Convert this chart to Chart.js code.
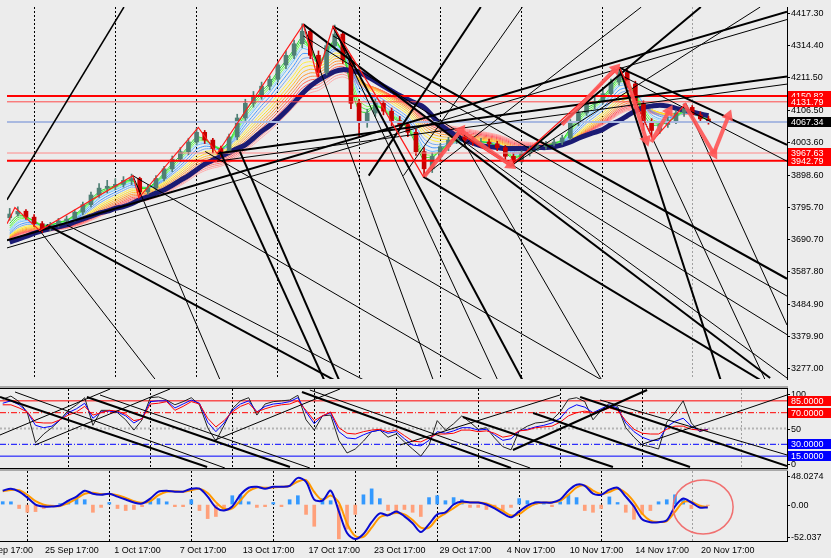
<!DOCTYPE html>
<html>
<head>
<meta charset="utf-8">
<title>Price chart</title>
<script src="https://cdn.jsdelivr.net/npm/chart.js"></script>
<style>
  html, body { margin: 0; padding: 0; background: #ececec; }
  #wrap { position: relative; width: 831px; height: 558px; overflow: hidden; background: #ececec; }
  canvas { position: absolute; left: 0; }
  .sep { position: absolute; left: 0; width: 788px; }
</style>
</head>
<body>
<div id="wrap">
  <canvas id="mainChart" width="831" height="386" style="top:0"></canvas>
  <div class="sep" style="top:386px;height:2px;background:#a8a8a8"></div>
  <div class="sep" style="top:388px;height:1px;background:#000"></div>
  <canvas id="oscChart" width="831" height="79" style="top:389px"></canvas>
  <div class="sep" style="top:468px;height:1px;background:#000"></div>
  <div class="sep" style="top:469px;height:2px;background:#a8a8a8"></div>
  <canvas id="macdChart" width="831" height="87" style="top:471px"></canvas>
  <div class="sep" style="top:541px;height:1px;background:#000"></div>
</div>
<script>
/* ── Price data: one candle per 3 bars (x = 1 + 3*i) ───────── */
const opens = [
  3760,3772,3781,3762,3741,3725,3737,3750,3756,3778,
  3802,3833,3855,3861,3867,3880,3886,3843,3855,3886,
  3917,3948,3972,4003,4034,4009,3982,3972,4019,4080,
  4127,4151,4182,4204,4250,4281,4318,4358,4281,4226,
  4312,4349,4266,4127,4065,4096,4127,4102,4071,4059,
  4034,3972,3917,3957,3988,4009,4019,4009,4003,4003,
  3997,3985,3957,3941,3966,3982,3988,3997,4003,4016,
  4065,4096,4127,4133,4158,4195,4226,4189,4127,4065,
  4040,4059,4071,4096,4114,4090,4077];
const highs = [
  3790,3795,3786,3770,3748,3745,3758,3766,3785,3810,
  3842,3870,3880,3885,3892,3900,3890,3866,3895,3925,
  3958,3985,4015,4048,4040,4015,3990,4028,4092,4140,
  4165,4195,4215,4262,4295,4330,4382,4366,4295,4322,
  4378,4358,4280,4140,4108,4140,4135,4112,4085,4068,
  4045,3985,3968,3998,4018,4035,4028,4020,4015,4012,
  4005,3992,3965,3975,3990,3995,4005,4012,4025,4075,
  4108,4138,4148,4170,4205,4242,4235,4198,4135,4078,
  4068,4082,4105,4125,4120,4100,4085];
const lows = [
  3752,3765,3755,3732,3712,3718,3730,3740,3748,3770,
  3795,3825,3840,3850,3858,3866,3832,3835,3848,3878,
  3908,3940,3962,3995,3998,3968,3955,3965,4010,4072,
  4115,4140,4170,4195,4238,4270,4305,4270,4212,4218,
  4300,4255,4110,4022,4050,4085,4090,4055,4045,4020,
  3960,3892,3905,3948,3975,3998,3995,3992,3990,3985,
  3975,3945,3925,3935,3958,3975,3980,3990,3995,4010,
  4055,4088,4110,4125,4150,4185,4178,4110,4040,4020,
  4030,4050,4062,4085,4080,4068,4060];
const closes = [
  3772,3781,3762,3741,3725,3737,3750,3756,3778,3802,
  3833,3855,3861,3867,3880,3886,3843,3855,3886,3917,
  3948,3972,4003,4034,4009,3982,3972,4019,4080,4127,
  4151,4182,4204,4250,4281,4318,4358,4281,4226,4312,
  4349,4266,4127,4065,4096,4127,4102,4071,4059,4034,
  3972,3917,3957,3988,4009,4019,4009,4003,4003,3997,
  3985,3957,3941,3966,3982,3988,3997,4003,4016,4065,
  4096,4127,4133,4158,4195,4226,4189,4127,4065,4040,
  4059,4071,4096,4114,4090,4077,4067];
/* thick navy slow average */
const slowMa = [
  3682,3691,3700,3710,3719,3725,3731,3737,3747,3756,
  3765,3775,3781,3790,3796,3805,3818,3827,3839,3849,
  3864,3880,3895,3914,3932,3945,3957,3969,3982,3994,
  4015,4037,4056,4077,4102,4130,4158,4182,4201,4216,
  4229,4235,4232,4226,4213,4198,4182,4167,4152,4139,
  4127,4114,4087,4059,4040,4022,4009,4000,3991,3988,
  3985,3982,3982,3982,3982,3985,3985,3988,3994,4003,
  4015,4025,4034,4043,4059,4071,4087,4102,4114,4118,
  4121,4118,4111,4105,4099,4093,4087];

/* rainbow ribbon: EMA periods (in candles) and colours, fast -> slow */
const ribbonPeriods = [2, 2.5, 3, 3.5, 4, 5, 6, 7, 8, 9, 10, 11, 12, 13, 14, 15, 16];
const ribbonColors  = ['#22dd22','#44ee44','#77ff55','#99ddff','#66bbff','#4499ff','#77aaee','#ffee44',
                       '#ffdd22','#ffbb33','#ff9933','#ff8844','#ff6655','#ff5566','#ff7777','#ff9090','#ffaaaa'];

const priceTicks = [4417.30, 4314.40, 4211.50, 4106.50, 4003.60, 3898.60, 3795.70, 3690.70, 3587.80, 3484.90, 3379.90, 3277.00];
const levelPrices = [4150.82, 4131.79, 3967.63, 3942.79];
const levelColors = ['#ff0000', '#ff4a4a', '#ff8a8a', '#ff0000'];
const levelWidths = [2, 1, 1, 2];
const bidPrice = 4067.34;

/* trend lines: [bar1, price1, bar2, price2, width] */
const priceLines = [
  [0, 3688.0, 288, 4420.4, 2],      [0, 3663.3, 288, 4395.7, 1],
  [77.58, 3966.1, 288, 4213.3, 2],  [77.58, 3941.4, 288, 4188.6, 1],
  [185.9, 3925.9, 256.17, 4435.8, 2], [185.9, 3925.9, 278.12, 4435.8, 1],
  [153.7, 3891.9, 234.21, 4435.8, 1], [0, 3817.8, 43.18, 4435.8, 1.5],
  [133.57, 3895.0, 174.93, 4435.8, 2], [146.38, 3895.0, 190.3, 4435.8, 1],
  [120.4, 4374.0, 288, 3564.4, 2],  [120.4, 4343.1, 288, 3508.8, 1],
  [109.42, 4380.2, 281.78, 3246.1, 2], [109.42, 4343.1, 288, 3385.2, 1],
  [226.16, 4241.2, 288, 3993.9, 2], [226.16, 4219.5, 288, 3941.4, 1],
  [14.64, 3737.4, 120.76, 3239.9, 2], [21.96, 3737.4, 131.74, 3239.9, 1],
  [46.48, 3895.0, 175.66, 3239.9, 1], [73.19, 3972.3, 219.57, 3239.9, 1],
  [78.68, 3972.3, 117.11, 3239.9, 2], [86.0, 3972.3, 122.59, 3239.9, 2],
  [109.42, 4380.2, 157.36, 3239.9, 1], [120.4, 4374.0, 181.15, 3239.9, 1],
  [120.4, 4374.0, 190.3, 3239.9, 2], [166.51, 4034.1, 219.57, 3239.9, 1],
  [226.16, 4241.2, 263.49, 3239.9, 2], [226.16, 4241.2, 279.95, 3239.9, 1],
  [250.68, 4126.8, 288, 3416.1, 1], [153.7, 3891.9, 278.12, 3239.9, 2],
  [166.51, 4018.6, 288, 3246.1, 1], [12.08, 3718.9, 54.89, 3239.9, 1],
  [46.48, 3895.0, 78.68, 3239.9, 1]
];
/* red zigzag swing line */
const zigzagBars   = [0, 2.93, 12.08, 46.48, 48.67, 70.63, 77.58, 109.42, 114.54, 120.4, 137.96, 153.7, 166.51, 185.91, 226.16, 238.6, 250.68];
const zigzagPrices = [3740.5, 3793.1, 3718.9, 3895.0, 3823.9, 4049.6, 3966.1, 4380.2, 4213.3, 4374.0, 4126.8, 3891.9, 4034.1, 3925.9, 4241.2, 4009.4, 4126.8];
/* salmon arrows: [bar1, price1, bar2, price2] */
const arrows = [
  [154.07, 3892.0, 167.61, 4040.3], [167.61, 4040.3, 185.91, 3929.0],
  [204.93, 4058.8, 224.70, 4238.1], [229.09, 4201.0, 236.04, 4009.4],
  [237.87, 4003.2, 244.46, 4102.1], [249.95, 4126.8, 260.92, 3966.1],
  [260.92, 3966.1, 266.41, 4086.6]
];

/* ── Oscillator panel ──────────────────────────────────────── */
const oscBlack = [
  87,91,84,70,32,43,51,61,73,80, 89,54,73,73,70,61,48,61,89,90,
  86,80,84,89,80,51,34,54,75,85, 89,67,81,84,85,86,92,61,48,66,
  67,35,19,24,34,46,48,39,43,33, 24,15,29,60,48,56,66,58,49,51,
  38,27,23,47,53,57,58,61,71,87, 89,84,61,73,82,78,51,39,29,27,
  24,58,70,85,57,46,49];
const oscBlue = [
  82,85,80,71,54,51,53,61,70,75, 82,63,71,72,71,66,57,63,84,85,
  85,76,81,86,82,58,46,57,73,81, 85,71,78,81,82,84,89,71,56,66,
  70,46,38,37,42,46,48,44,46,37, 29,28,35,46,44,47,51,51,48,49,
  42,35,37,47,49,52,54,57,63,75, 80,77,70,75,80,76,57,46,39,35,
  35,52,59,63,53,47,49];
const oscRed = [
  80,80,76,71,58,57,57,61,67,71, 78,67,70,73,72,68,60,62,81,82,
  84,73,78,84,81,63,52,60,71,78, 82,71,75,78,80,81,85,73,60,66,
  71,51,44,43,46,48,49,46,48,41, 34,33,38,43,43,44,48,48,46,47,
  44,39,41,47,48,51,52,53,58,66, 70,72,70,72,76,73,60,49,44,43,
  43,49,53,53,49,48,48];
const oscLevels = [85, 70, 50, 30, 15];
const oscLevelColors = ['#ff0000', '#ff0000', '#b4b4b4', '#0000ff', '#0000ff'];
const oscLevelDash = [[], [6, 2, 1, 2], [2, 2], [6, 2, 1, 2], []];
const oscLevelWidth = [1, 1, 2, 1, 1];
const oscBoxes = [[85, '85.0000', '#ff0000'], [70, '70.0000', '#ff0000'], [30, '30.0000', '#0000ff'], [15, '15.0000', '#0000ff']];
const oscPlainLabels = [[100, '100'], [50, '50'], [0, '0']];
const oscLines = [
  [0, 89.9, 75.8, 1.3, 2], [5.5, 96.2, 82.3, 0, 1], [31.8, 89.9, 106.1, 1.3, 2], [36.6, 92.4, 113.4, 0, 1],
  [110.5, 96.2, 187.0, 0, 2], [113.4, 98.7, 194.0, 0, 1], [169.4, 64.6, 224.3, 1.3, 2], [195.1, 69.6, 252.5, 1.3, 2],
  [212.3, 89.9, 288, 2.5, 2], [219.6, 86.1, 288, 16.5, 1], [187.7, 22.8, 236.8, 98.7, 2], [0, 41.8, 40.3, 100, 1],
  [12.8, 29.1, 62.2, 100, 1], [78.7, 35.4, 124.4, 100, 1], [146.4, 29.1, 204.9, 92.4, 1], [234.2, 29.1, 288, 92.4, 1]
];

/* ── MACD panel ────────────────────────────────────────────── */
const macdMax = 48.0274, macdMin = -52.037;
const macdMain = [
  19.9,22.7,18.5,10.0,0.1,-2.7,-2.7,-1.3,5.8,11.4, 19.9,15.6,14.2,15.6,11.4,7.2,3.0,1.5,8.6,18.5,
  19.9,18.5,18.5,22.7,22.7,11.4,-4.1,-8.3,-2.7,14.2, 24.1,25.5,22.7,25.5,25.5,26.9,38.2,32.5,7.2,5.8,
  19.9,-9.7,-40.7,-49.2,-42.1,-25.2,-12.5,-15.4,-9.7,-16.8, -26.6,-39.3,-28.0,-13.9,-11.1,0.1,4.4,3.0,3.0,0.1,
  -5.5,-12.5,-18.2,-9.7,-1.3,3.0,3.0,3.0,7.2,19.9, 28.3,26.9,15.6,14.2,21.3,24.1,11.4,-2.7,-21.0,-25.2,
  -25.2,-22.4,-2.7,8.6,3.0,-4.1,-4.1];
const macdSignal = [
  19.0,21.0,20.5,14.0,5.0,0.0,-2.0,-2.0,2.0,8.5, 15.5,17.0,15.0,15.0,13.5,9.5,5.0,2.5,5.0,13.5,
  18.5,19.0,18.5,20.5,22.5,16.5,3.5,-6.0,-5.5,6.0, 19.0,24.5,24.0,24.5,25.5,26.5,33.0,35.0,18.0,6.5,
  13.0,3.0,-27.0,-45.0,-46.0,-33.0,-18.0,-14.5,-12.0,-14.0, -22.0,-33.0,-33.0,-20.0,-12.5,-5.0,2.5,3.5,3.0,1.5,
  -3.0,-9.0,-15.5,-13.5,-5.0,1.0,3.0,3.0,5.5,14.0, 24.5,27.5,20.0,15.0,18.0,22.5,16.5,4.0,-13.0,-23.0,
  -25.0,-23.5,-10.5,3.5,4.0,-1.5,-3.5];
const macdHist = [
  4.2,4,-5.6,-11,-10,-5.6,-1.4,1.4,5.6,8.5, 7,-11,-4,3,-5.6,-8.5,-7,-3,7,8.5,
  4,-3,-3,7,-8.5,-20,-17,-8.5,12.7,14, 4,-4,-3,3,-3,7,12.7,-14,-31,8.5,
  5.6,-49,-35,-14,14,22.5,8.5,-8.5,-11,-7, -11,-17,10,12.7,5.6,10,7,-4,-4,-7,
  -5.6,-8.5,-4,8.5,5.6,4,3,-3,4,14, 10,-8.5,-11,-5.6,11,3,-11,-21,-14,-8.5,
  4,7,14,8.5,-5.6,-4,-1.4];
const macdLabels = [[macdMax, '48.0274'], [0, '0.00'], [macdMin, '-52.037']];
const circleCenter = { bar: 257.3, value: -3.4 };

/* ── Time axis ─────────────────────────────────────────────── */
const timeLabels = ['19 Sep 17:00', '25 Sep 17:00', '1 Oct 17:00', '7 Oct 17:00', '13 Oct 17:00', '17 Oct 17:00',
                    '23 Oct 17:00', '29 Oct 17:00', '4 Nov 17:00', '10 Nov 17:00', '14 Nov 17:00', '20 Nov 17:00'];
const timeLabelBars = [2.3, 26.3, 50.3, 74.3, 98.3, 122.3, 146.3, 170.3, 194.3, 218.3, 242.3, 266.3];
const shiftBar = 271.5;
const gridBars = [25, 55, 85, 115, 145, 175, 205, 235, shiftBar];

/* ── Helpers ───────────────────────────────────────────────── */
const BULL = '#4f7f74', BEAR = '#c80000';
const AXIS_FONT = '9px "Liberation Sans", Arial, sans-serif';
const AXIS_X = 787;

Chart.defaults.animation = false;
Chart.defaults.plugins.legend.display = false;
Chart.defaults.plugins.tooltip.enabled = false;

const barOf = i => 1 + 3 * i;
const toPoints = arr => arr.map((v, i) => ({ x: barOf(i), y: v }));
const segment = l => [{ x: l[0], y: l[1] }, { x: l[2], y: l[3] }];

function ema(values, period, seed) {
  const k = 2 / (period + 1);
  let e = seed;
  return values.map(v => (e = k * v + (1 - k) * e));
}

function xScale() {
  return {
    type: 'linear', min: 0, max: 288, offset: false,
    afterBuildTicks: s => { s.ticks = gridBars.map(v => ({ value: v })); },
    ticks: { display: false },
    grid: {
      color: c => (c.tick && c.tick.value === shiftBar) ? '#a0a0a0' : '#000',
      lineWidth: 1, drawTicks: false
    },
    border: { display: false, dash: [2, 2] }
  };
}

function yScale(min, max) {
  return {
    type: 'linear', position: 'right', min, max,
    afterFit: s => { s.width = 831 - AXIS_X; },
    ticks: { display: false },
    grid: { drawOnChartArea: false, drawTicks: false },
    border: { display: true, color: '#000', width: 1 }
  };
}

function lineSet(data, color, width, order, extra) {
  return Object.assign({ type: 'line', data, borderColor: color, borderWidth: width,
    pointRadius: 0, tension: 0, order }, extra || {});
}

function plainLabel(ctx, y, text) {
  const py = Math.round(y) + 0.5;
  ctx.strokeStyle = '#000'; ctx.lineWidth = 1;
  ctx.beginPath(); ctx.moveTo(AXIS_X, py); ctx.lineTo(AXIS_X + 3, py); ctx.stroke();
  ctx.fillStyle = '#000';
  ctx.fillText(text, AXIS_X + 4, py);
}

function boxLabel(ctx, y, text, bg) {
  const py = Math.round(y);
  ctx.fillStyle = bg; ctx.fillRect(AXIS_X + 1, py - 5, 831 - AXIS_X - 1, 10);
  ctx.fillStyle = '#fff';
  ctx.fillText(text, AXIS_X + 4, py + 0.5);
}

function clampY(area, py) { return Math.min(area.bottom - 4, Math.max(area.top + 5, py)); }

/* ── Main price chart ──────────────────────────────────────── */
const candleColor = c => closes[c.dataIndex] >= opens[c.dataIndex] ? BULL : BEAR;
const mainSets = [];

ribbonPeriods.forEach((p, k) =>
  mainSets.push(lineSet(toPoints(ema(closes, p, slowMa[0])), ribbonColors[k], 1, 50, { tension: 0.25 })));
mainSets.push(lineSet(toPoints(slowMa), '#1b1b74', 5, 45, { tension: 0.3 }));
mainSets.push({ type: 'bar', data: highs.map((h, i) => ({ x: barOf(i), y: [lows[i], h] })),
  backgroundColor: candleColor, barThickness: 1, grouped: false, order: 31 });
mainSets.push({ type: 'bar', data: opens.map((o, i) => ({ x: barOf(i), y: [o, closes[i]] })),
  backgroundColor: candleColor, barThickness: 4, grouped: false, order: 30 });
levelPrices.forEach((v, k) =>
  mainSets.push(lineSet([{ x: 0, y: v }, { x: 288, y: v }], levelColors[k], levelWidths[k], 25)));
mainSets.push(lineSet([{ x: 0, y: bidPrice }, { x: 288, y: bidPrice }], '#a9b9e0', 2, 26));
priceLines.forEach(l => mainSets.push(lineSet(segment(l), '#000', l[4], 10)));
mainSets.push(lineSet(zigzagBars.map((b, i) => ({ x: b, y: zigzagPrices[i] })), '#ff1a1a', 1.2, 6));
arrows.forEach(a => mainSets.push(lineSet(segment(a), 'rgba(255,85,85,0.9)', 4, 2, {
  pointRadius: [0, 7], pointStyle: 'triangle', pointBorderWidth: 0,
  pointBackgroundColor: 'rgba(255,85,85,0.9)',
  rotation: c => {
    const sx = c.chart.scales.x, sy = c.chart.scales.y;
    const dx = sx.getPixelForValue(a[2]) - sx.getPixelForValue(a[0]);
    const dy = sy.getPixelForValue(a[3]) - sy.getPixelForValue(a[1]);
    return Math.atan2(dx, -dy) * 180 / Math.PI;
  }
})));

const mainAxisLabels = {
  id: 'mainAxisLabels',
  afterDraw(chart) {
    const { ctx, scales: { y } } = chart;
    ctx.save();
    ctx.font = AXIS_FONT; ctx.textBaseline = 'middle'; ctx.textAlign = 'left';
    priceTicks.forEach(v => plainLabel(ctx, y.getPixelForValue(v), v.toFixed(2)));
    levelPrices.forEach(v => boxLabel(ctx, y.getPixelForValue(v), v.toFixed(2), '#ff0000'));
    boxLabel(ctx, y.getPixelForValue(bidPrice), bidPrice.toFixed(2), '#000');
    ctx.restore();
  }
};

new Chart(document.getElementById('mainChart'), {
  type: 'bar',
  data: { datasets: mainSets },
  options: {
    responsive: false,
    layout: { padding: 0 },
    scales: { x: xScale(), y: yScale(3243.0, 4435.84) }
  },
  plugins: [mainAxisLabels]
});

/* ── Oscillator chart ──────────────────────────────────────── */
const oscSets = [];
oscLevels.forEach((v, k) => oscSets.push(lineSet([{ x: 0, y: v }, { x: 288, y: v }],
  oscLevelColors[k], oscLevelWidth[k], 30, { borderDash: oscLevelDash[k] })));
oscSets.push(lineSet(toPoints(oscBlack), '#222', 1, 14));
oscSets.push(lineSet(toPoints(oscBlue), '#0000ff', 1, 13));
oscSets.push(lineSet(toPoints(oscRed), '#ff0000', 1, 12));
oscLines.forEach(l => oscSets.push(lineSet(segment(l), '#000', l[4], 5)));

const oscAxisLabels = {
  id: 'oscAxisLabels',
  afterDraw(chart) {
    const { ctx, chartArea, scales: { y } } = chart;
    ctx.save();
    ctx.font = AXIS_FONT; ctx.textBaseline = 'middle'; ctx.textAlign = 'left';
    oscPlainLabels.forEach(([v, t]) => plainLabel(ctx, clampY(chartArea, y.getPixelForValue(v)), t));
    oscBoxes.forEach(([v, t, c]) => boxLabel(ctx, y.getPixelForValue(v), t, c));
    ctx.restore();
  }
};

new Chart(document.getElementById('oscChart'), {
  type: 'line',
  data: { datasets: oscSets },
  options: {
    responsive: false,
    layout: { padding: 0 },
    scales: { x: xScale(), y: yScale(0, 100) }
  },
  plugins: [oscAxisLabels]
});

/* ── MACD chart ────────────────────────────────────────────── */
const macdSets = [
  { type: 'bar', data: toPoints(macdHist), barThickness: 3, grouped: false, order: 20,
    backgroundColor: c => macdHist[c.dataIndex] >= 0 ? '#3399ff' : '#ffa07a' },
  lineSet(toPoints(macdSignal), '#ff9900', 2, 11, { tension: 0.3 }),
  lineSet(toPoints(macdMain), '#0a0ad0', 2, 10, { tension: 0.3 })
];

const macdDecor = {
  id: 'macdDecor',
  afterDraw(chart) {
    const { ctx, chartArea, scales: { x, y } } = chart;
    ctx.save();
    ctx.font = AXIS_FONT; ctx.textBaseline = 'middle'; ctx.textAlign = 'left';
    macdLabels.forEach(([v, t]) => plainLabel(ctx, clampY(chartArea, y.getPixelForValue(v)), t));
    /* highlight ellipse */
    ctx.strokeStyle = '#f07070'; ctx.lineWidth = 1.5;
    ctx.beginPath();
    ctx.ellipse(x.getPixelForValue(circleCenter.bar), y.getPixelForValue(circleCenter.value), 30, 27, 0, 0, Math.PI * 2);
    ctx.stroke();
    /* time labels */
    ctx.fillStyle = '#000'; ctx.textAlign = 'center';
    timeLabels.forEach((t, i) => ctx.fillText(t, x.getPixelForValue(timeLabelBars[i]), chartArea.bottom + 10));
    ctx.restore();
  }
};

new Chart(document.getElementById('macdChart'), {
  type: 'bar',
  data: { datasets: macdSets },
  options: {
    responsive: false,
    layout: { padding: { left: 0, right: 0, top: 0, bottom: 17 } },
    scales: { x: xScale(), y: yScale(macdMin, macdMax) }
  },
  plugins: [macdDecor]
});
</script>
</body>
</html>
